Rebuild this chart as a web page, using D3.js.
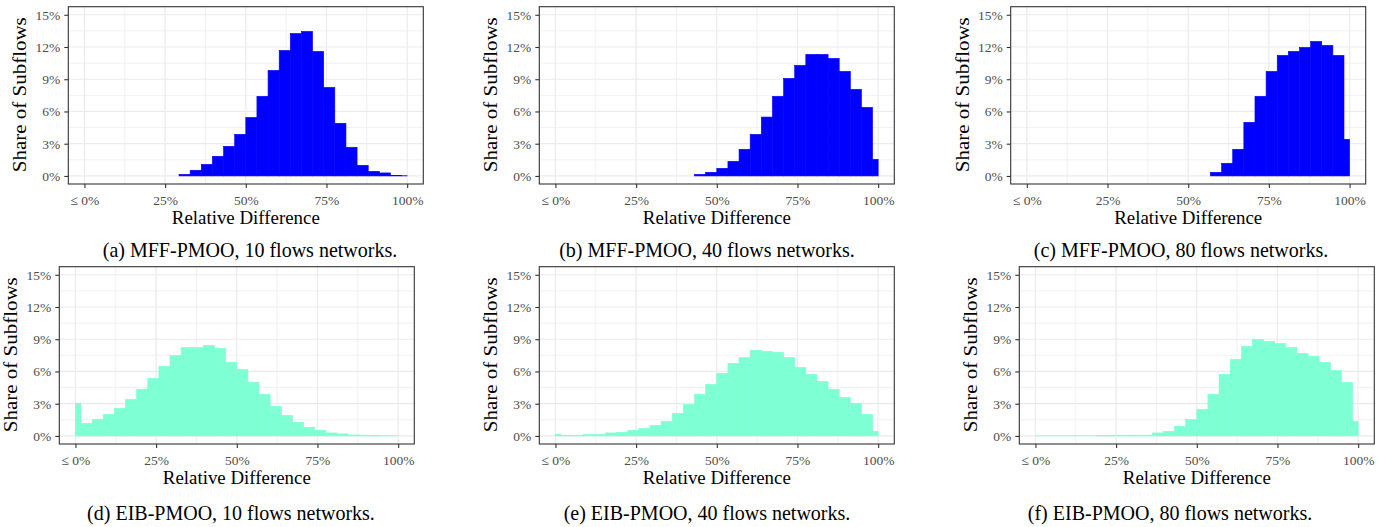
<!DOCTYPE html>
<html>
<head>
<meta charset="utf-8">
<script src="https://cdn.jsdelivr.net/npm/d3@7"></script>
<style>
  html, body { margin: 0; padding: 0; background: #fff; }
  svg { display: block; }
  text { font-family: "Liberation Serif", "Times New Roman", serif; }
</style>
</head>
<body>
<svg id="chart" width="1390" height="527"></svg>
<script>
// ---- data ----
const binCenters = [0, 3.448, 6.897, 10.345, 13.793, 17.241, 20.69, 24.138, 27.586, 31.034,
  34.483, 37.931, 41.379, 44.828, 48.276, 51.724, 55.172, 58.621, 62.069, 65.517,
  68.966, 72.414, 75.862, 79.31, 82.759, 86.207, 89.655, 93.103, 96.552, 100];
const binWidth = 3.448;

const mff10 = [0, 0, 0, 0, 0, 0, 0, 0, 0, 0.15, 0.53, 1.08, 1.83, 2.76, 3.87, 5.45, 7.41, 9.82, 11.68, 13.26,
  13.45, 11.59, 8.24, 4.9, 2.67, 0.99, 0.43, 0.28, 0.05, 0.02];
const mff40 = [0, 0, 0, 0, 0, 0, 0, 0, 0, 0, 0, 0, 0, 0.15, 0.34, 0.71, 1.36, 2.48, 3.87, 5.48,
  7.41, 9.08, 10.29, 11.31, 11.31, 10.94, 9.73, 8.06, 6.38, 1.55];
const mff80 = [0, 0, 0, 0, 0, 0, 0, 0, 0, 0, 0, 0, 0, 0, 0, 0, 0, 0.34, 1.18, 2.48,
  4.99, 7.41, 9.73, 11.22, 11.59, 11.96, 12.52, 12.15, 11.22, 3.41];
const eib10 = [3.04, 1.18, 1.55, 2.01, 2.57, 3.41, 4.34, 5.36, 6.48, 7.5, 8.24, 8.24, 8.43, 8.15, 6.85, 6.2,
  4.99, 3.87, 2.76, 1.92, 1.27, 0.81, 0.53, 0.28, 0.19, 0.09, 0.07, 0.06, 0.02, 0.01];
const eib40 = [0.15, 0.06, 0.06, 0.12, 0.15, 0.28, 0.34, 0.53, 0.71, 0.99, 1.36, 2.1, 2.94, 3.87, 4.8, 5.83,
  6.76, 7.31, 7.96, 7.87, 7.78, 7.31, 6.38, 5.73, 5.08, 4.34, 3.59, 3.04, 2.01, 0.43];
const eib80 = [0.01, 0.01, 0.01, 0.01, 0.01, 0.01, 0.05, 0.07, 0.07, 0.07, 0.07, 0.28, 0.43, 0.9, 1.55, 2.48,
  3.87, 5.73, 7.13, 8.34, 8.99, 8.8, 8.61, 8.24, 7.69, 7.41, 6.85, 6.1, 4.99, 1.36];

const xTicks = [0, 25, 50, 75, 100];
const xTickLabels = ["\u2264 0%", "25%", "50%", "75%", "100%"];
const xMinor = [12.5, 37.5, 62.5, 87.5];
const yTicks = [0, 3, 6, 9, 12, 15];
const yMinor = [1.5, 4.5, 7.5, 10.5, 13.5];
const captions = [
  "(a) MFF-PMOO, 10 flows networks.",
  "(b) MFF-PMOO, 40 flows networks.",
  "(c) MFF-PMOO, 80 flows networks.",
  "(d) EIB-PMOO, 10 flows networks.",
  "(e) EIB-PMOO, 40 flows networks.",
  "(f) EIB-PMOO, 80 flows networks."
];
const xTitle = "Relative Difference";
const yTitle = "Share of Subflows";

// ---- layout ----
const PW = 355, PH = 177.3;
const panels = [
  { data: mff10, color: "#0000FF", x0: 68.3,   y0: 6.7,   cap: captions[0], cx: 250,  cy: 257 },
  { data: mff40, color: "#0000FF", x0: 539.3,  y0: 6.7,   cap: captions[1], cx: 707,  cy: 257 },
  { data: mff80, color: "#0000FF", x0: 1010.7, y0: 6.7,   cap: captions[2], cx: 1181, cy: 257 },
  { data: eib10, color: "#7FFFD4", x0: 59.3,   y0: 266.7, cap: captions[3], cx: 231,  cy: 520 },
  { data: eib40, color: "#7FFFD4", x0: 539.3,  y0: 266.7, cap: captions[4], cx: 707,  cy: 520 },
  { data: eib80, color: "#7FFFD4", x0: 1019.3, y0: 266.7, cap: captions[5], cx: 1170, cy: 520 }
];

const svg = d3.select("#chart");

panels.forEach(p => {
  const x = d3.scaleLinear().domain([-5, 105]).range([p.x0, p.x0 + PW]);
  const y = d3.scaleLinear().domain([-0.75, 15.75]).range([p.y0 + PH, p.y0]);
  const g = svg.append("g");

  g.append("rect").attr("x", p.x0).attr("y", p.y0).attr("width", PW).attr("height", PH)
    .attr("fill", "#fff");

  // minor grid
  g.selectAll(null).data(xMinor).enter().append("line")
    .attr("x1", d => x(d)).attr("x2", d => x(d)).attr("y1", p.y0).attr("y2", p.y0 + PH)
    .attr("stroke", "#EBEBEB").attr("stroke-width", 0.7);
  g.selectAll(null).data(yMinor).enter().append("line")
    .attr("y1", d => y(d)).attr("y2", d => y(d)).attr("x1", p.x0).attr("x2", p.x0 + PW)
    .attr("stroke", "#EBEBEB").attr("stroke-width", 0.7);
  // major grid
  g.selectAll(null).data(xTicks).enter().append("line")
    .attr("x1", d => x(d)).attr("x2", d => x(d)).attr("y1", p.y0).attr("y2", p.y0 + PH)
    .attr("stroke", "#EBEBEB").attr("stroke-width", 1.2);
  g.selectAll(null).data(yTicks).enter().append("line")
    .attr("y1", d => y(d)).attr("y2", d => y(d)).attr("x1", p.x0).attr("x2", p.x0 + PW)
    .attr("stroke", "#EBEBEB").attr("stroke-width", 1.2);

  // bars
  const bars = binCenters.map((c, i) => ({
    lo: Math.max(0, c - binWidth / 2),
    hi: Math.min(100, c + binWidth / 2),
    v: p.data[i]
  }));
  g.selectAll(null).data(bars).enter().append("rect")
    .attr("x", d => x(d.lo))
    .attr("width", d => x(d.hi) - x(d.lo))
    .attr("y", d => y(d.v))
    .attr("height", d => y(0) - y(d.v))
    .attr("fill", p.color)
    .attr("stroke", p.color)
    .attr("stroke-width", 0.6);

  // border
  g.append("rect").attr("x", p.x0).attr("y", p.y0).attr("width", PW).attr("height", PH)
    .attr("fill", "none").attr("stroke", "#333333").attr("stroke-width", 1.1);

  // axes
  const xa = g.append("g").attr("transform", `translate(0,${p.y0 + PH})`)
    .call(d3.axisBottom(x).tickValues(xTicks).tickFormat((d, i) => xTickLabels[i])
      .tickSize(4).tickPadding(7));
  const ya = g.append("g").attr("transform", `translate(${p.x0},0)`)
    .call(d3.axisLeft(y).tickValues(yTicks).tickFormat(d => d + "%")
      .tickSize(4).tickPadding(4));
  [xa, ya].forEach(a => {
    a.select(".domain").remove();
    a.selectAll(".tick line").attr("stroke", "#333333").attr("stroke-width", 1.1);
    a.selectAll(".tick text").attr("fill", "#4D4D4D")
      .style("font-family", '"Liberation Serif", serif').style("font-size", "13.5px");
  });

  // axis titles
  g.append("text")
    .attr("x", p.x0 + PW / 2).attr("y", p.y0 + PH + 40)
    .attr("text-anchor", "middle")
    .attr("textLength", 148).attr("lengthAdjust", "spacingAndGlyphs")
    .style("font-size", "18px").attr("fill", "#000")
    .text(xTitle);
  g.append("text")
    .attr("transform", `translate(${p.x0 - 42},${p.y0 + 88})rotate(-90)`)
    .attr("text-anchor", "middle")
    .attr("textLength", 155).attr("lengthAdjust", "spacingAndGlyphs")
    .style("font-size", "18px").attr("fill", "#000")
    .text(yTitle);

  // caption
  const cap = g.append("text")
    .attr("x", p.cx).attr("y", p.cy)
    .attr("text-anchor", "middle")
    .style("font-size", "20px").attr("fill", "#000")
    .text(p.cap);
  const natural = cap.node().getComputedTextLength();
  cap.style("font-size", "21.5px")
    .attr("textLength", natural)
    .attr("lengthAdjust", "spacingAndGlyphs");
});
</script>
</body>
</html>
